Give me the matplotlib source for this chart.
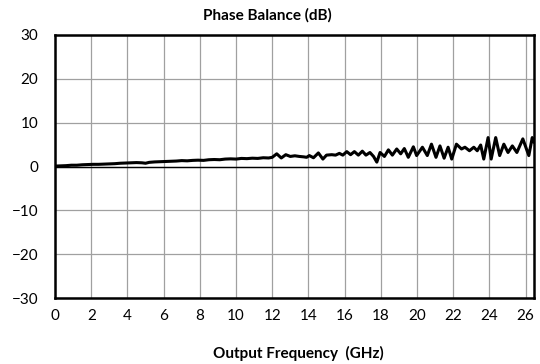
import matplotlib
matplotlib.use("Agg")
import matplotlib.pyplot as plt

plt.rcParams['font.family'] = ['Lato', 'DejaVu Sans']

freq_ghz = [
    0.0, 0.3, 0.6, 0.9, 1.2, 1.5, 1.8, 2.1, 2.4, 2.7, 3.0, 3.3, 3.6, 3.9,
    4.2, 4.5, 4.8, 5.0, 5.2, 5.5, 5.8, 6.1, 6.4, 6.7, 7.0, 7.3, 7.6, 7.9,
    8.2, 8.5, 8.8, 9.1, 9.4, 9.7, 10.0, 10.3, 10.6, 10.9, 11.2, 11.5, 11.8,
    12.0, 12.25, 12.5, 12.75, 13.0, 13.25, 13.5, 13.75, 13.9, 14.05, 14.28,
    14.55, 14.8, 15.0, 15.29, 15.5, 15.71, 15.9, 16.12, 16.33, 16.54, 16.76,
    16.98, 17.18, 17.4, 17.6, 17.78, 17.96, 18.2, 18.42, 18.64, 18.88, 19.1,
    19.3, 19.52, 19.8, 19.98, 20.3, 20.57, 20.8, 21.05, 21.27, 21.5, 21.72,
    21.92, 22.18, 22.46, 22.65, 22.9, 23.14, 23.33, 23.52, 23.69, 23.93,
    24.1, 24.35, 24.57, 24.8, 25.03, 25.27, 25.52, 25.85, 26.18, 26.37, 26.47,
]
phase_balance = [
    0.10, 0.15, 0.20, 0.30, 0.30, 0.40, 0.45, 0.50, 0.50, 0.55, 0.60, 0.65,
    0.75, 0.80, 0.85, 0.90, 0.85, 0.75, 0.95, 1.05, 1.10, 1.15, 1.20, 1.25,
    1.35, 1.30, 1.40, 1.45, 1.40, 1.55, 1.60, 1.55, 1.70, 1.75, 1.70, 1.85,
    1.80, 1.90, 1.85, 2.00, 1.95, 2.10, 2.90, 1.95, 2.70, 2.30, 2.45, 2.30,
    2.20, 2.10, 2.50, 2.00, 3.10, 1.70, 2.60, 2.70, 2.60, 3.00, 2.60, 3.40,
    2.70, 3.40, 2.60, 3.50, 2.60, 3.20, 2.30, 1.00, 3.20, 2.30, 3.80, 2.60,
    4.00, 2.90, 4.10, 2.10, 4.50, 2.50, 4.40, 2.50, 5.10, 2.10, 4.70, 1.90,
    4.40, 1.70, 5.10, 4.00, 4.40, 3.60, 4.40, 3.60, 4.90, 1.70, 6.60, 1.70,
    6.60, 2.50, 5.10, 3.20, 4.70, 3.20, 6.30, 2.50, 6.60, 5.50,
]

x_ticks = list(range(0, 27, 2))
y_ticks = [-30, -20, -10, 0, 10, 20, 30]

fig = plt.figure(figsize=(5.4, 3.64), dpi=100)
ax = fig.add_axes([0.102, 0.181, 0.887, 0.723])

ax.plot(freq_ghz, phase_balance, color='black', lw=2.2,
        solid_joinstyle='round', solid_capstyle='round', zorder=3)

ax.set_xlim(0, 26.47)
ax.set_ylim(-30, 30)
ax.set_xticks(x_ticks)
ax.set_yticks(y_ticks)
ax.grid(True, color='#a0a0a0', lw=0.9)
ax.axhline(0, color='black', lw=1.0, zorder=2)
ax.tick_params(length=0, labelsize=11, pad=8)
ax.tick_params(axis='y', pad=12)
for s in ax.spines.values():
    s.set_linewidth(1.8)
    s.set_color('black')

fig.text(0.496, 0.959, 'Phase Balance (dB)', ha='center', va='center',
         fontsize=11, fontweight='bold')
fig.text(0.552, 0.03, 'Output Frequency  (GHz)', ha='center', va='center',
         fontsize=11, fontweight='bold')

fig.savefig('out.png', dpi=100)
